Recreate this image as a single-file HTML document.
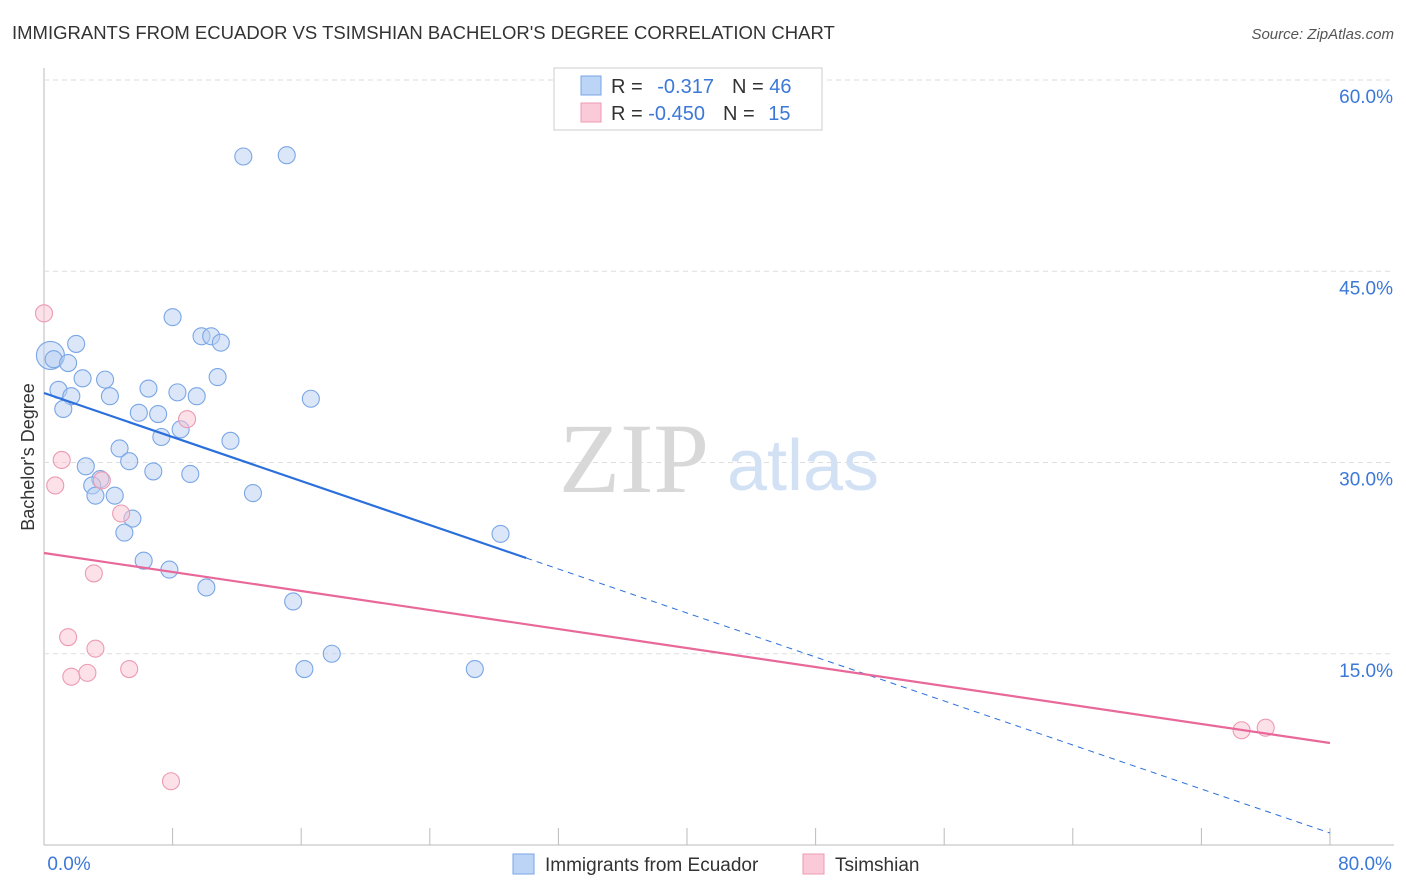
<!DOCTYPE html>
<html><head><meta charset="utf-8"><style>
body{margin:0;background:#fff;font-family:"Liberation Sans",sans-serif}
svg{display:block}
</style></head><body>
<svg id="c" width="1406" height="892" xmlns="http://www.w3.org/2000/svg">
<text x="12" y="39" font-size="18.5" fill="#333">IMMIGRANTS FROM ECUADOR VS TSIMSHIAN BACHELOR'S DEGREE CORRELATION CHART</text>
<text x="1394" y="39" font-size="15" fill="#555" font-style="italic" text-anchor="end">Source: ZipAtlas.com</text>
<g id="grid"></g>
<g>
<text x="634" y="492" font-family="Liberation Serif,serif" font-size="100" fill="#d8d8d8" text-anchor="middle">ZIP</text>
<text x="803" y="490" font-size="72" fill="#d3e1f5" text-anchor="middle">atlas</text>
</g>
<text transform="translate(34,457) rotate(-90)" font-size="18" fill="#333" text-anchor="middle">Bachelor's Degree</text>
<g id="marks"></g>
<g>
<rect x="554" y="68" width="268" height="62" fill="#fff" stroke="#ccc"/>
<rect x="581" y="76" width="20" height="19" fill="#bcd4f5" stroke="#7aa6e6"/>
<rect x="581" y="103" width="20" height="19" fill="#fbcad8" stroke="#ec9ab2"/>
<text x="611" y="93" font-size="20" fill="#333">R = <tspan fill="#3b78d8" dx="9">-0.317</tspan><tspan dx="18" fill="#333">N = </tspan><tspan fill="#3b78d8">46</tspan></text>
<text x="611" y="120" font-size="20" fill="#333">R = <tspan fill="#3b78d8">-0.450</tspan><tspan dx="18" fill="#333">N = </tspan><tspan fill="#3b78d8" dx="8">15</tspan></text>
</g>
<g>
<rect x="513" y="854" width="21" height="20" fill="#bcd4f5" stroke="#7aa6e6"/>
<text x="545" y="871" font-size="19" fill="#333">Immigrants from Ecuador</text>
<rect x="803" y="854" width="21" height="20" fill="#fbcad8" stroke="#ec9ab2"/>
<text x="835" y="871" font-size="19" fill="#333">Tsimshian</text>
</g>
</svg>
<script>
const blueX=[0.4,0.6,1.5,2.0,0.9,1.7,1.2,2.4,3.8,4.1,6.5,5.9,7.1,8.3,9.5,8.0,9.8,10.4,11.0,10.8,7.3,8.5,11.6,4.7,5.3,2.6,6.8,9.1,3.5,3.0,3.2,4.4,5.5,5.0,6.2,7.8,10.1,13.0,16.6,12.4,15.1,28.4,15.5,17.9,16.2,26.8];
const blueY=[38.4,38.1,37.8,39.3,35.7,35.2,34.2,36.6,36.5,35.2,35.8,33.9,33.8,35.5,35.2,41.4,39.9,39.9,39.4,36.7,32.0,32.6,31.7,31.1,30.1,29.7,29.3,29.1,28.7,28.2,27.4,27.4,25.6,24.5,22.3,21.6,20.2,27.6,35.0,54.0,54.1,24.4,19.1,15.0,13.8,13.8];
const pinkX=[0.0,1.1,0.7,3.6,4.8,8.9,3.1,1.5,3.2,1.7,2.7,5.3,7.9,74.5,76.0];
const pinkY=[41.7,30.2,28.2,28.6,26.0,33.4,21.3,16.3,15.4,13.2,13.5,13.8,5.0,9.0,9.2];
const xTicks=[0,10,20,30,40,50,60,70,80];
const yTicks=[15,30,45,60];
const blueFit=[35.45,0.94], pinkFit=[22.9,8.0];
const sx=v=>44+v/80*1286, sy=v=>845-v/60*765;
const NS="http://www.w3.org/2000/svg";
const g=document.getElementById('grid'), m=document.getElementById('marks');
function mk(p,t,a){const e=document.createElementNS(NS,t);for(const k in a)e.setAttribute(k,a[k]);p.appendChild(e);return e;}
let ax=mk(g,'line',{x1:44,y1:68,x2:44,y2:845,stroke:'#bbb'});


let bx=mk(g,'line',{x1:44,y1:845,x2:1394,y2:845,stroke:'#bbb'});


yTicks.forEach(v=>{
 let l=mk(g,'line',{x1:44,y1:sy(v),x2:1394,y2:sy(v),stroke:'#ddd','stroke-dasharray':'5,4'});
 
 
 let t=mk(g,'text',{x:1393,y:sy(v)+23,'font-size':19,fill:'#3b78d8','text-anchor':'end'});t.textContent=v.toFixed(1)+'%';
 
 
});
for(let i=0;i<=10;i++){let x=44+i*128.6;let l=mk(g,'line',{x1:x,y1:828,x2:x,y2:845,stroke:'#bbb'});
 
 }
[[0,'0.0%',69],[80,'80.0%',1365]].forEach(([v,s,x])=>{let t=mk(g,'text',{x:x,y:870,'font-size':19,fill:'#3b78d8','text-anchor':'middle'});t.textContent=s;
 
 });
function dot(x,y,f,s,r,n){let c=mk(m,'circle',{cx:sx(x),cy:sy(y),r:r,fill:f,'fill-opacity':0.5,stroke:s,'stroke-width':1.1});
 
 }
blueX.forEach((x,i)=>dot(x,blueY[i],'#b7cff2','#7aa6e6',i==0?14:8.5,'ecuador-point'));
pinkX.forEach((x,i)=>dot(x,pinkY[i],'#f9c4d3','#ec9ab2',8.5,'tsimshian-point'));
const bAt=x=>blueFit[0]+(blueFit[1]-blueFit[0])*x/80;
let bl=mk(m,'line',{x1:sx(0),y1:sy(bAt(0)),x2:sx(30),y2:sy(bAt(30)),stroke:'#2a6fdb','stroke-width':2.2});


let bd=mk(m,'line',{x1:sx(30),y1:sy(bAt(30)),x2:sx(80),y2:sy(bAt(80)),stroke:'#2a6fdb','stroke-width':1,'stroke-dasharray':'6,5'});


let pl=mk(m,'line',{x1:sx(0),y1:sy(pinkFit[0]),x2:sx(80),y2:sy(pinkFit[1]),stroke:'#e8689a','stroke-width':2.2});


</script>
</body></html>
